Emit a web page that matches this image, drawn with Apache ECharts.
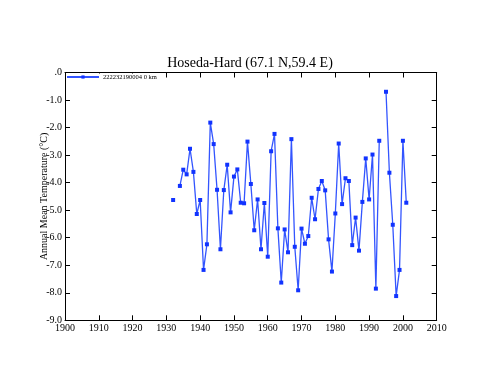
<!DOCTYPE html>
<html><head><meta charset="utf-8">
<script src="https://cdn.jsdelivr.net/npm/echarts@6/dist/echarts.min.js"></script>
<style>html,body{margin:0;padding:0;background:#fff}#c{width:500px;height:386px}</style>
</head><body><div id="c"></div>
<script>
const title = 'Hoseda-Hard (67.1 N,59.4 E)';
const seriesName = '222232190004 0 km';
const yAxisTitle = 'Annual Mean Temperature (°C)';
const years = [1932,1933,1934,1935,1936,1937,1938,1939,1940,1941,1942,1943,1944,1945,1946,1947,1948,1949,1950,
  1951,1952,1953,1954,1955,1956,1957,1958,1959,1960,1961,1962,1963,1964,1965,1966,1967,1968,1969,1970,
  1971,1972,1973,1974,1975,1976,1977,1978,1979,1980,1981,1982,1983,1984,1985,1986,1987,1988,1989,1990,
  1991,1992,1993,1994,1995,1996,1997,1998,1999,2000,2001];
const temps = [-4.63,null,-4.12,-3.53,-3.70,-2.77,-3.61,-5.14,-4.63,-7.17,-6.24,-1.82,-2.60,-4.26,-6.42,-4.27,-3.35,-5.08,-3.78,
  -3.52,-4.73,-4.75,-2.51,-4.05,-5.73,-4.61,-6.42,-4.74,-6.69,-2.86,-2.23,-5.66,-7.63,-5.70,-6.53,-2.42,-6.33,-7.91,-5.67,
  -6.22,-5.94,-4.55,-5.33,-4.23,-3.94,-4.28,-6.06,-7.23,-5.12,-2.58,-4.78,-3.84,-3.94,-6.27,-5.27,-6.47,-4.70,-3.12,-4.61,
  -2.98,-7.85,-2.48,null,-0.70,-3.64,-5.53,-8.12,-7.17,-2.48,-4.73];
const xMin = 1900, xMax = 2010, xStep = 10;
const yMin = -9, yMax = 0, yStep = 1;

const data = years.map((y, i) => [y, temps[i] === null ? '-' : temps[i]]);
const font = 'Liberation Serif';
const chart = echarts.init(document.getElementById('c'), null, {renderer: 'canvas'});
const tickInside = {show: true, inside: true, length: 5, lineStyle: {color: '#000', width: 1}};
chart.setOption({
  animation: false,
  backgroundColor: '#fff',
  title: {text: title, left: 'center', top: 51, textStyle: {fontFamily: font, fontSize: 14, fontWeight: 'normal', color: '#000'}},
  legend: {left: 66, top: 73.5, padding: [0, 4, 1, 0], itemWidth: 32, itemHeight: 4, itemGap: 4,
    backgroundColor: '#fff',
    textStyle: {fontFamily: font, fontSize: 6.5, color: '#000', padding: [0,0,0,-1]}, data: [seriesName]},
  grid: {left: 65, right: 63.3, top: 72.5, bottom: 65.7, show: false},
  xAxis: [
    {type: 'value', min: xMin, max: xMax, interval: xStep, position: 'bottom',
     axisLine: {show: true, onZero: false, lineStyle: {color: '#000', width: 1}},
     axisTick: tickInside, splitLine: {show: false},
     axisLabel: {fontFamily: font, fontSize: 10, color: '#000', margin: 3, formatter: v => String(v)}},
    {type: 'value', min: xMin, max: xMax, interval: xStep, position: 'top',
     axisLine: {show: true, onZero: false, lineStyle: {color: '#000', width: 1}},
     axisTick: tickInside, splitLine: {show: false}, axisLabel: {show: false}}
  ],
  yAxis: [
    {type: 'value', min: yMin, max: yMax, interval: yStep, position: 'left',
     name: yAxisTitle, nameLocation: 'middle', nameGap: 16, nameMoveOverlap: false,
     nameTextStyle: {fontFamily: font, fontSize: 10, color: '#000'},
     axisLine: {show: true, onZero: false, lineStyle: {color: '#000', width: 1}},
     axisTick: tickInside, splitLine: {show: false},
     axisLabel: {fontFamily: font, fontSize: 10, color: '#000', margin: 3,
       formatter: v => v === 0 ? '.0' : v.toFixed(1)}},
    {type: 'value', min: yMin, max: yMax, interval: yStep, position: 'right',
     axisLine: {show: true, onZero: false, lineStyle: {color: '#000', width: 1}},
     axisTick: tickInside, splitLine: {show: false}, axisLabel: {show: false}}
  ],
  series: [{
    name: seriesName, type: 'line', data: data, connectNulls: false,
    symbol: 'rect', symbolSize: 4, showAllSymbol: true,
    lineStyle: {color: '#3355ff', width: 1.3},
    itemStyle: {color: '#1133ff'}
  }]
});
</script></body></html>
